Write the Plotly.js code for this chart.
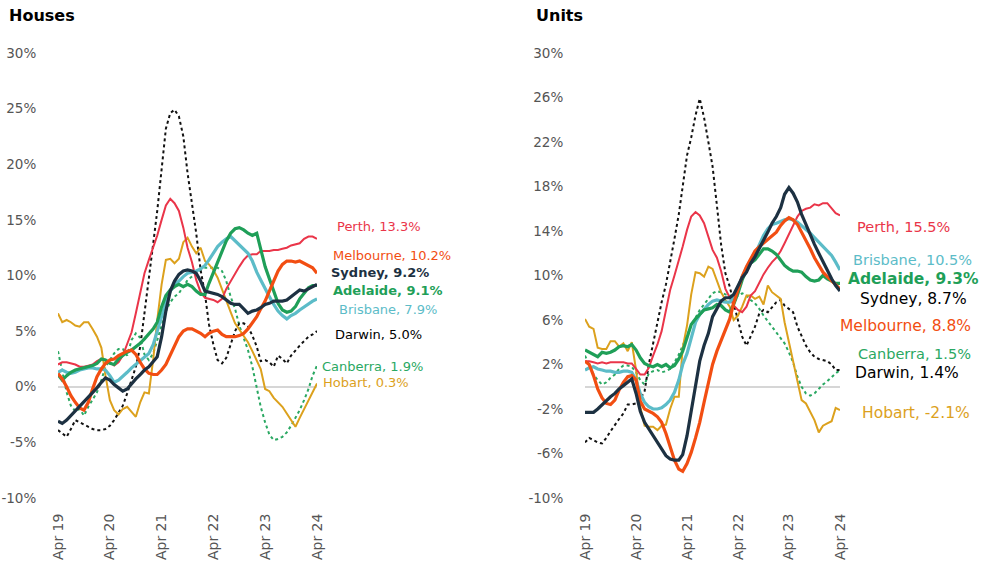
<!DOCTYPE html>
<html>
<head>
<meta charset="utf-8">
<script src="https://cdn.plot.ly/plotly-3.0.1.min.js"></script>
<style>
html,body{margin:0;padding:0;background:#fff;}
#chart{width:994px;height:577px;}
</style>
</head>
<body>
<div id="chart"></div>
<script>
// Monthly series, Apr 2019 .. Apr 2024 (61 points each), annual % change
const tickLabels = ['Apr 19','Apr 20','Apr 21','Apr 22','Apr 23','Apr 24'];
const housesYTicks = [-10,-5,0,5,10,15,20,25,30];
const unitsYTicks = [-10,-6,-2,2,6,10,14,18,22,26,30];

const cities = ['Perth','Melbourne','Sydney','Adelaide','Brisbane','Darwin','Canberra','Hobart'];

// Houses
const housesSydney = [-3.1,-3.3,-3.0,-2.6,-2.2,-1.8,-1.4,-1.0,-0.6,-0.1,0.4,0.8,0.6,0.2,-0.1,-0.4,-0.2,0.3,0.7,1.1,1.5,1.8,2.3,2.7,4.5,6.8,8.6,9.5,10.1,10.4,10.5,10.4,10.2,9.5,8.6,8.5,8.4,8.3,8.1,7.8,7.5,7.4,7.4,7.0,6.6,6.8,6.9,7.1,7.4,7.5,7.7,7.7,7.7,7.8,8.1,8.4,8.7,8.6,8.8,9.0,9.2];
const housesMelbourne = [1.2,0.7,0.0,-0.8,-1.4,-1.9,-2.1,-1.4,-0.2,0.9,1.6,2.1,2.4,2.5,2.8,3.0,3.2,3.3,2.9,2.2,1.6,1.2,1.1,1.1,1.5,2.0,2.8,3.6,4.5,5.0,5.2,5.2,5.0,4.8,4.5,4.8,5.0,5.1,4.7,4.5,4.5,4.5,4.6,4.8,5.2,5.7,6.3,7.0,7.7,8.6,9.5,10.4,11.0,11.3,11.3,11.2,11.3,11.1,10.9,10.7,10.2];
const housesPerth = [2.0,2.2,2.2,2.1,2.0,1.8,1.8,1.9,2.0,2.3,2.5,2.4,2.2,1.9,2.2,2.8,3.8,4.9,6.6,8.4,10.2,11.4,12.5,13.6,15.0,16.3,16.9,16.5,15.8,14.3,12.5,11.2,9.6,8.5,8.0,7.9,7.8,7.6,7.9,8.8,9.5,10.1,10.8,11.4,11.8,11.9,11.9,12.2,12.2,12.2,12.3,12.3,12.4,12.5,12.7,12.8,12.9,13.3,13.5,13.5,13.3];
const housesAdelaide = [1.1,0.6,1.0,1.3,1.5,1.6,1.7,1.8,1.9,2.1,2.5,2.4,2.1,2.0,2.5,2.8,3.1,3.3,3.6,3.9,4.3,4.7,5.2,5.8,7.2,8.2,8.7,9.0,9.2,9.0,9.2,9.0,8.6,8.3,8.3,9.3,10.3,11.2,12.2,13.1,13.8,14.2,14.3,14.1,13.8,13.6,13.8,12.4,10.8,9.7,8.5,7.5,6.9,6.7,6.8,7.2,7.9,8.4,8.9,9.1,9.1];
const housesBrisbane = [1.3,1.5,1.3,1.2,1.3,1.5,1.6,1.7,1.7,1.6,1.6,1.5,1.0,0.4,0.6,0.9,1.3,1.7,2.0,2.3,2.6,3.0,3.8,4.9,6.3,7.6,8.6,9.2,9.5,9.9,10.2,10.3,10.4,10.6,10.9,11.4,12.0,12.6,13.0,13.3,13.5,13.1,12.8,12.4,12.0,11.3,10.3,9.6,8.8,8.1,7.4,6.8,6.4,6.1,6.4,6.6,6.9,7.2,7.5,7.7,7.9];
const housesDarwin = [-3.9,-4.2,-4.5,-3.8,-3.0,-3.2,-3.4,-3.6,-3.8,-3.9,-3.9,-3.8,-3.5,-3.0,-2.4,-1.7,-0.6,0.7,1.8,3.6,6.5,10.0,12.9,15.8,19.5,23.2,24.6,24.9,24.3,22.5,19.2,16.5,13.8,10.5,8.3,5.6,3.8,2.4,2.1,2.6,3.8,5.0,5.7,5.7,5.4,4.6,3.6,2.3,2.4,2.2,1.8,2.8,2.5,2.1,2.8,3.3,3.7,4.1,4.5,4.7,5.0];
const housesCanberra = [3.2,1.4,-0.5,-1.7,-2.2,-2.0,-2.6,-1.8,-1.2,-0.5,0.6,1.8,2.4,3.0,3.4,3.4,2.8,4.2,4.8,4.4,2.9,2.4,3.0,4.3,5.5,6.8,7.6,8.1,8.4,9.0,9.6,9.9,10.3,10.5,10.7,10.7,10.7,10.7,10.4,9.5,8.1,7.0,5.5,4.3,3.3,1.8,0.0,-1.8,-3.2,-4.3,-4.8,-4.7,-4.5,-4.1,-3.5,-2.8,-2.1,-1.2,-0.2,1.0,1.9];
const housesHobart = [6.6,5.8,6.0,5.8,5.5,5.4,5.8,5.8,5.2,4.5,3.5,1.0,-1.2,-2.1,-2.5,-2.0,-1.8,-2.3,-2.7,-1.4,-0.5,-0.6,2.5,6.0,9.2,11.4,11.5,11.1,11.5,13.0,13.4,12.6,12.0,12.5,11.3,11.0,10.5,9.8,8.7,7.7,6.7,5.7,5.1,4.6,4.0,3.2,2.4,1.6,-0.2,-0.4,-1.0,-1.4,-1.8,-2.4,-3.0,-3.6,-2.8,-2.0,-1.2,-0.5,0.3];

// Units
const unitsSydney = [-2.3,-2.3,-2.3,-2.0,-1.6,-1.2,-0.9,-0.6,-0.2,0.1,0.4,0.7,-0.6,-2.2,-3.2,-3.8,-4.4,-5.0,-5.6,-6.2,-6.5,-6.6,-6.6,-6.1,-4.4,-2.2,0.1,2.3,3.7,4.8,6.3,7.0,7.7,8.0,8.0,8.3,9.1,9.8,10.3,11.1,11.7,12.4,13.1,13.9,14.7,15.3,16.1,17.3,17.9,17.4,16.6,15.5,14.6,13.6,12.8,12.0,11.2,10.4,9.7,9.1,8.6];
const unitsMelbourne = [2.3,2.0,1.0,-0.2,-1.0,-1.5,-1.6,-1.2,-0.3,0.4,0.9,1.0,0.6,-1.3,-2.0,-2.2,-2.4,-2.7,-3.2,-4.2,-5.4,-6.6,-7.4,-7.6,-6.9,-5.9,-4.6,-3.2,-1.4,0.3,2.0,3.2,4.1,5.0,6.1,7.5,8.7,9.9,10.8,11.5,12.2,12.6,12.9,13.3,13.6,13.9,14.5,14.9,15.2,15.0,14.6,13.9,13.2,12.4,11.6,10.9,10.3,9.9,9.5,9.1,8.8];
const unitsPerth = [2.3,2.3,2.2,2.1,2.2,2.1,2.2,2.2,2.2,2.2,2.1,2.1,1.6,1.1,1.1,1.7,2.8,3.8,5.0,6.8,8.7,10.0,11.3,12.6,14.1,15.3,15.7,15.4,14.7,13.5,12.3,11.6,10.4,8.8,8.0,7.3,6.9,6.7,7.2,8.2,8.6,9.4,10.1,10.7,11.2,11.6,12.2,12.9,13.7,14.6,15.3,15.8,16.0,16.1,16.4,16.3,16.5,16.5,16.0,15.6,15.4];
const unitsAdelaide = [3.3,3.1,2.9,2.7,3.1,3.0,3.1,3.3,3.6,3.7,3.6,3.8,3.3,2.6,2.1,1.9,1.8,2.0,1.8,2.0,1.7,1.9,2.5,3.2,4.4,5.6,6.1,6.5,6.9,7.0,7.1,7.4,7.3,6.9,6.7,7.4,8.4,9.6,10.5,11.1,11.4,11.9,12.4,12.4,12.2,11.9,11.4,10.9,10.6,10.4,10.4,10.3,9.9,9.6,9.5,9.6,10.0,9.7,9.5,9.3,9.3];
const unitsBrisbane = [1.5,1.7,1.8,1.6,1.5,1.4,1.4,1.3,1.3,1.4,1.4,1.3,0.6,-0.6,-1.4,-1.8,-2.0,-2.0,-1.9,-1.6,-1.2,-0.5,0.6,2.0,3.0,4.5,5.8,6.5,7.0,7.4,7.7,7.8,7.7,7.6,7.6,8.0,8.9,9.9,10.7,11.4,11.9,12.8,13.6,14.2,14.6,14.7,14.9,15.0,15.1,15.0,14.8,14.5,14.2,13.8,13.4,13.0,12.7,12.3,11.8,11.2,10.5];
const unitsDarwin = [-5.0,-4.6,-4.8,-5.0,-5.1,-4.6,-4.0,-3.4,-2.9,-2.4,-1.6,-1.6,-1.5,-1.1,-0.4,2.0,4.0,6.0,7.6,9.2,11.1,13.3,15.5,18.1,20.8,22.4,24.4,25.9,24.2,22.0,19.8,16.3,12.8,10.2,9.0,7.5,5.9,4.5,3.7,4.5,5.4,6.6,6.9,6.7,7.1,7.6,7.8,7.3,7.0,6.7,5.4,4.5,3.7,3.1,2.7,2.5,2.4,2.3,2.0,1.5,1.5];
const unitsCanberra = [2.8,2.0,1.1,0.6,0.2,0.4,0.8,1.1,1.6,1.9,1.9,1.8,1.3,0.6,0.2,1.2,1.4,1.5,1.3,1.4,1.6,2.2,2.9,3.7,4.6,5.5,6.2,6.9,7.4,7.9,8.4,8.6,8.5,8.3,8.2,8.1,8.2,8.4,8.2,7.8,7.5,7.0,6.4,5.9,5.4,4.9,4.4,3.9,3.1,2.2,0.9,0.0,-0.6,-0.8,-0.6,-0.2,0.2,0.5,0.9,1.2,1.5];
const unitsHobart = [6.1,5.4,5.2,3.5,3.4,3.4,4.1,4.1,3.6,3.9,3.2,4.0,1.5,-1.8,-3.5,-3.6,-3.6,-3.9,-3.5,-3.4,-2.0,-0.9,-0.9,3.5,5.5,8.3,10.3,10.2,9.9,10.8,10.6,9.6,8.5,7.8,7.2,6.0,6.4,7.2,8.2,8.2,7.9,8.1,7.4,9.1,8.5,8.2,7.9,5.8,4.0,2.2,0.4,-1.2,-1.5,-2.2,-3.0,-4.1,-3.5,-3.3,-3.1,-1.9,-2.1];

// End labels (as printed on the chart)
const housesLabelValues = {Perth:'13.3%',Melbourne:'10.2%',Sydney:'9.2%',Adelaide:'9.1%',Brisbane:'7.9%',Darwin:'5.0%',Canberra:'1.9%',Hobart:'0.3%'};
const unitsLabelValues  = {Perth:'15.5%',Brisbane:'10.5%',Adelaide:'9.3%',Sydney:'8.7%',Melbourne:'8.8%',Canberra:'1.5%',Darwin:'1.4%',Hobart:'-2.1%'};

// ---------- styling ----------
const W = 994, H = 577;
const FONT = "'DejaVu Sans', 'Open Sans', sans-serif";
const colors = {
  Perth:'#ea3549', Melbourne:'#f24e12', Sydney:'#1d3142', Adelaide:'#1f9f58',
  Brisbane:'#5cbcc8', Darwin:'#111111', Canberra:'#2aa862', Hobart:'#dca11d'
};
const lineStyle = {
  Canberra:{width:2, dash:'dot'}, Darwin:{width:2, dash:'dot'},
  Hobart:{width:2}, Perth:{width:2},
  Brisbane:{width:3.2}, Adelaide:{width:3.2}, Melbourne:{width:3.2}, Sydney:{width:3.2}
};
const drawOrder = ['Canberra','Darwin','Hobart','Perth','Brisbane','Adelaide','Melbourne','Sydney'];

const months = [];
for (let i = 0; i < housesSydney.length; i++) {
  const d = new Date(Date.UTC(2019, 3 + i, 1));
  months.push(d.toISOString().slice(0, 10));
}
const tickDates = tickLabels.map((_, i) => months[i * 12]);

const houses = {Sydney:housesSydney, Melbourne:housesMelbourne, Perth:housesPerth, Adelaide:housesAdelaide,
  Brisbane:housesBrisbane, Darwin:housesDarwin, Canberra:housesCanberra, Hobart:housesHobart};
const units = {Sydney:unitsSydney, Melbourne:unitsMelbourne, Perth:unitsPerth, Adelaide:unitsAdelaide,
  Brisbane:unitsBrisbane, Darwin:unitsDarwin, Canberra:unitsCanberra, Hobart:unitsHobart};

const traces = [];
drawOrder.forEach(c => {
  traces.push({x:months, y:houses[c], xaxis:'x', yaxis:'y', type:'scatter', mode:'lines', name:c,
    line:Object.assign({color:colors[c], shape:'linear'}, lineStyle[c]), hoverinfo:'skip', showlegend:false});
});
drawOrder.forEach(c => {
  traces.push({x:months, y:units[c], xaxis:'x2', yaxis:'y2', type:'scatter', mode:'lines', name:c,
    line:Object.assign({color:colors[c], shape:'linear'}, lineStyle[c]), hoverinfo:'skip', showlegend:false});
});

const px = v => v / W;
const py = v => 1 - v / H;

const fmtPct = v => (v < 0 ? '-' : '') + Math.abs(v) + '%';

function xAxis(domain) {
  return {domain, type:'date', range:[months[0], months[months.length-1]],
    tickvals:tickDates, ticktext:tickLabels, tickangle:-90,
    showgrid:false, zeroline:false, showline:false,
    ticks:'outside', ticklen:9, tickcolor:'rgba(0,0,0,0)',
    tickfont:{family:FONT, size:14, color:'#555555'}, fixedrange:true};
}
function yAxis(ticks, domain) {
  return {domain, range:[-10, 30], tickmode:'array', tickvals:ticks, ticktext:ticks.map(fmtPct),
    showgrid:false, showline:false, zeroline:true, zerolinecolor:'#d6d6d6', zerolinewidth:2.4,
    ticks:'outside', ticklen:18, tickcolor:'rgba(0,0,0,0)',
    tickfont:{family:FONT, size:13.5, color:'#555555'}, fixedrange:true};
}

const yDom = [py(498), py(53)];

// label positions (pixel): [left x, center y, size, bold]
const housesLabelPos = {
  Perth:[336,226,13,false], Melbourne:[332,255,13,false], Sydney:[330,272,13,true], Adelaide:[332,290,13,true],
  Brisbane:[338,309,13,false], Darwin:[334,334,13,false], Canberra:[321,366,13,false], Hobart:[322,383,13,false]
};
const unitsLabelPos = {
  Perth:[856,227,14.5,false], Brisbane:[852,260,14.5,false], Adelaide:[847,279,15.5,true], Sydney:[859,299,15.5,false],
  Melbourne:[839,326,15.5,false], Canberra:[857,354,14.5,false], Darwin:[854,373,15.5,false], Hobart:[861,413,15.5,false]
};
const labelColor = c => (c === 'Darwin' ? '#000000' : (c === 'Sydney' ? '#1d3142' : colors[c]));

const annotations = [];
function addLabels(pos, vals, unitsChart) {
  Object.keys(pos).forEach(c => {
    const [x, y, size, bold] = pos[c];
    let col = labelColor(c);
    if (unitsChart && c === 'Sydney') col = '#000000';
    const txt = c + ', ' + vals[c];
    annotations.push({xref:'paper', yref:'paper', x:px(x), y:py(y), xanchor:'left', yanchor:'middle',
      text: bold ? '<b>' + txt + '</b>' : txt, showarrow:false, borderpad:0,
      font:{family:FONT, size, color:col}});
  });
}
addLabels(housesLabelPos, housesLabelValues, false);
addLabels(unitsLabelPos, unitsLabelValues, true);

annotations.push({xref:'paper', yref:'paper', x:px(7), y:py(16), xanchor:'left', yanchor:'middle',
  text:'<b>Houses</b>', showarrow:false, font:{family:FONT, size:16, color:'#000'}});
annotations.push({xref:'paper', yref:'paper', x:px(534), y:py(16), xanchor:'left', yanchor:'middle',
  text:'<b>Units</b>', showarrow:false, font:{family:FONT, size:16, color:'#000'}});

const layout = {
  width:W, height:H, margin:{l:0, r:0, t:0, b:0},
  paper_bgcolor:'#ffffff', plot_bgcolor:'#ffffff',
  font:{family:FONT},
  showlegend:false,
  xaxis:xAxis([px(58), px(317)]),
  yaxis:yAxis(housesYTicks, yDom),
  xaxis2:xAxis([px(585), px(840)]),
  yaxis2:Object.assign(yAxis(unitsYTicks, yDom), {anchor:'x2'}),
  annotations
};
layout.xaxis.anchor = 'y';
layout.xaxis2.anchor = 'y2';

Plotly.newPlot('chart', traces, layout, {staticPlot:true, displayModeBar:false});
</script>
</body>
</html>
